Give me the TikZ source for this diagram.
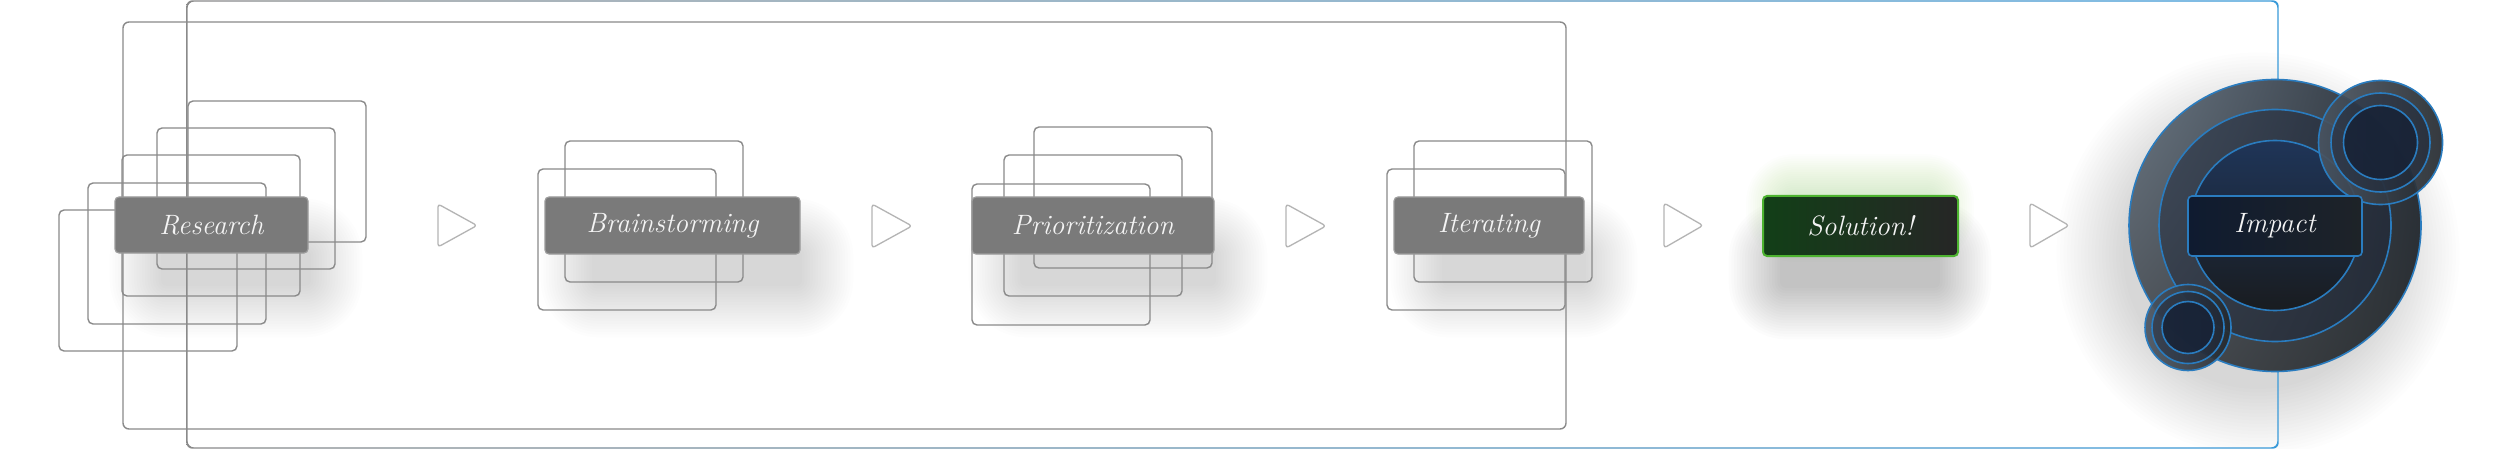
\documentclass[tikz,border=0pt]{standalone}
\usepackage{fontspec}
\usetikzlibrary{calc,shadings}
\definecolor{linegray}{HTML}{8A8A8A}
\definecolor{boxgray}{HTML}{7A7A7A}
\definecolor{boxedge}{HTML}{9C9C9C}
\definecolor{arrowgray}{HTML}{B4B4B4}
\definecolor{lineblue}{HTML}{3A9AD9}
\definecolor{midblue}{HTML}{7A97AE}
\definecolor{ringblue}{HTML}{2A7CBF}
\definecolor{solA}{HTML}{123F17}
\definecolor{solB}{HTML}{262626}
\definecolor{solEdge}{HTML}{4DB330}
\definecolor{glow}{HTML}{5CB83A}
\definecolor{txt}{HTML}{F4F4F4}
\definecolor{impA}{HTML}{0F1B30}
\definecolor{impB}{HTML}{1E2328}
\definecolor{cUL}{HTML}{6A7784}
\definecolor{cUR}{HTML}{2A313A}
\definecolor{cLL}{HTML}{4A4E53}
\definecolor{cLR}{HTML}{2A2E31}
\definecolor{midband}{HTML}{1A2438}
\definecolor{navyA}{HTML}{1F3558}
\definecolor{navyB}{HTML}{191C20}
\definecolor{sUL}{HTML}{4A5562}
\definecolor{sLR}{HTML}{24292E}
\definecolor{sIn}{HTML}{172236}

% soft rounded-rectangle shadow: centre x, centre y, half width, half height, colour, layer opacity, step
\newcommand\softbox[7]{%
  \foreach \k in {0,...,19}{%
    \pgfmathsetmacro\rc{6+#7*\k}%
    \fill[#5, opacity=#6, rounded corners=\rc pt]
      ({#1-#3-#7*\k},{#2-#4-#7*\k}) rectangle ({#1+#3+#7*\k},{#2+#4+#7*\k});
  }}
\newcommand\softcirc[5]{%
  \foreach \k in {0,...,19}{%
    \pgfmathsetmacro\rr{#3+3.5*\k}%
    \fill[#4, opacity=#5] (#1,#2) circle[radius=\rr pt];
  }}

\tikzset{
  stack/.style={draw=linegray, line width=1.4pt, rounded corners=5pt},
  framebox/.style={draw=linegray, line width=1.4pt, rounded corners=6pt},
  graybox/.style={rectangle, rounded corners=4pt, fill=boxgray, draw=boxedge,
    line width=1.2pt, text=txt, font=\fontsize{28}{32}\selectfont\itshape, inner sep=0pt},
  solbox/.style={graybox, left color=solA, right color=solB, draw=solEdge, line width=2pt},
  impbox/.style={graybox, left color=impA, right color=impB, draw=ringblue, line width=1.6pt},
  playtri/.style={draw=arrowgray, fill=white, line width=1.3pt, rounded corners=3pt, line join=round},
  ring/.style={draw=ringblue, line width=1.6pt},
}

\begin{document}
\begin{tikzpicture}[x=1pt, y=-1pt]
\useasboundingbox (0,0) rectangle (2500,449);
\fill[white] (0,0) rectangle (2500,449);

% soft shadows
\softbox{236}{268}{75}{18}{black}{0.009}{2.7}
\softbox{697}{268}{105}{18}{black}{0.009}{2.7}
\softbox{1118}{268}{98}{18}{black}{0.009}{2.7}
\softbox{1514}{268}{72}{18}{black}{0.009}{2.7}
\softbox{1860}{270}{80}{18}{black}{0.010}{2.7}
\softbox{1860}{208}{72}{12}{glow}{0.013}{2.2}
\softcirc{2258}{254}{135}{black}{0.008}

% frames
\draw[framebox] (123,22) rectangle (1566,429);
\shade[left color=linegray, middle color=midblue, right color=lineblue, even odd rule, rounded corners=6pt]
  (186.3,0.3) rectangle (2278.7,448.7) (187.7,1.7) rectangle (2277.3,447.3);

% stacks behind Research
\draw[stack] (59,210) rectangle ++(178,141);
\draw[stack] (88,183) rectangle ++(178,141);
\draw[stack] (122,155) rectangle ++(178,141);
\draw[stack] (157,128) rectangle ++(178,141);
\draw[stack] (188,101) rectangle ++(178,141);
% Brainstorming
\draw[stack] (538,169) rectangle ++(178,141);
\draw[stack] (565,141) rectangle ++(178,141);
% Prioritization
\draw[stack] (972,184) rectangle ++(178,141);
\draw[stack] (1004,155) rectangle ++(178,141);
\draw[stack] (1034,127) rectangle ++(178,141);
% Iterating
\draw[stack] (1387,169) rectangle ++(178,141);
\draw[stack] (1414,141) rectangle ++(178,141);

% play arrows
\draw[playtri] (438,204) -- (438,247) -- (477,225.5) -- cycle;
\draw[playtri] (872,204) -- (872,248) -- (912,226) -- cycle;
\draw[playtri] (1286,204) -- (1286,248) -- (1326,226) -- cycle;
\draw[playtri] (1664,203) -- (1664,248) -- (1703,225.5) -- cycle;
\draw[playtri] (2030,203) -- (2030,248) -- (2069,225.5) -- cycle;

% step boxes
\node[graybox, minimum width=193pt, minimum height=56pt] (research) at (211.5,225) {Research};
\node[graybox, minimum width=255pt, minimum height=57pt] (brain) at (672.5,225.5) {Brainstorming};
\node[graybox, minimum width=242pt, minimum height=57pt] (prio) at (1093,225.5) {Prioritization};
\node[graybox, minimum width=190pt, minimum height=57pt] (iter) at (1489,225.5) {Iterating};
\node[solbox, minimum width=195pt, minimum height=60pt] (solution) at (1860.5,226) {Solution!};

% impact circles
\coordinate (bigc) at (2275,225.5);
\shade[upper left=cUL, upper right=cUR, lower left=cLL, lower right=cLR] (bigc) circle[radius=146pt];
\draw[ring] (bigc) circle[radius=146pt];
\fill[midband, opacity=0.45] (bigc) circle[radius=116pt];
\draw[ring] (bigc) circle[radius=116pt];
\shade[top color=navyA, bottom color=navyB] (bigc) circle[radius=85pt];
\draw[ring] (bigc) circle[radius=85pt];

\coordinate (trc) at (2380.5,142.5);
\shade[upper left=sUL, lower right=sLR, upper right=sLR, lower left=sUL, opacity=0.92] (trc) circle[radius=62pt];
\draw[ring] (trc) circle[radius=62pt];
\fill[midband, opacity=0.45] (trc) circle[radius=49.5pt];
\draw[ring] (trc) circle[radius=49.5pt];
\fill[sIn, opacity=0.85] (trc) circle[radius=37pt];
\draw[ring] (trc) circle[radius=37pt];

\coordinate (blc) at (2188,327.5);
\shade[upper left=sUL, lower right=sLR, upper right=sLR, lower left=sUL, opacity=0.92] (blc) circle[radius=43pt];
\draw[ring] (blc) circle[radius=43pt];
\fill[midband, opacity=0.45] (blc) circle[radius=36pt];
\draw[ring] (blc) circle[radius=36pt];
\fill[sIn, opacity=0.85] (blc) circle[radius=26pt];
\draw[ring] (blc) circle[radius=26pt];

\node[impbox, minimum width=174pt, minimum height=60pt] (impact) at (2275,226) {Impact};
\end{tikzpicture}
\end{document}
